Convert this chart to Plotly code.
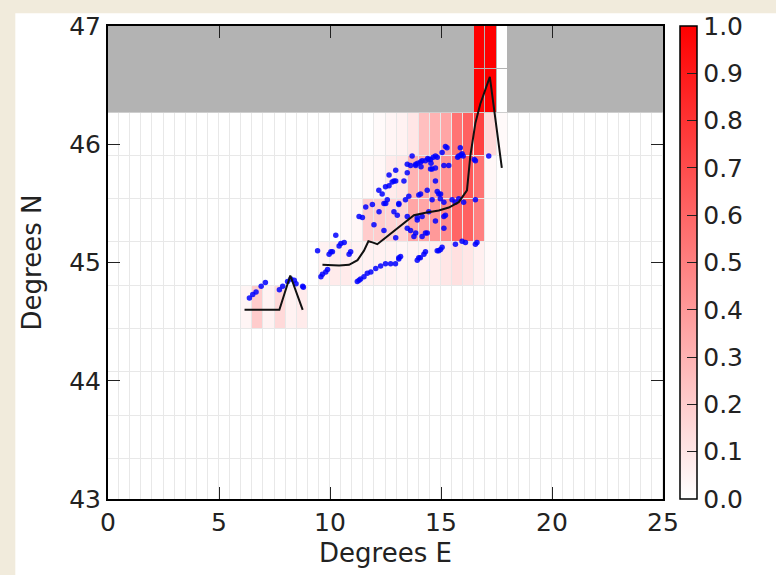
import numpy as np
import plotly.graph_objects as go

# grid of the density map (cell edges)
lon_edges = np.arange(0, 25.01, 0.5)
lat_top = 47.0
lat_step = 0.366
n_rows = 11

# cell values per row (row 0 = top), keyed by left edge of the cell in degrees E
row_top = {16.5: 1.0, 17.0: 1.0, 17.5: 0.0}
row2 = {12.0: 0.02, 12.5: 0.04, 13.0: 0.05, 13.5: 0.1, 14.0: 0.25, 14.5: 0.3,
        15.0: 0.35, 15.5: 0.55, 16.0: 0.62, 16.5: 0.75, 17.0: 0.15, 17.5: 0.02}
row3 = {11.5: 0.02, 12.0: 0.03, 12.5: 0.08, 13.0: 0.1, 13.5: 0.3, 14.0: 0.35,
        14.5: 0.35, 15.0: 0.42, 15.5: 0.58, 16.0: 0.65, 16.5: 0.55, 17.0: 0.03}
row4 = {10.5: 0.02, 11.0: 0.03, 11.5: 0.2, 12.0: 0.2, 12.5: 0.17, 13.0: 0.17,
        13.5: 0.35, 14.0: 0.35, 14.5: 0.4, 15.0: 0.45, 15.5: 0.6, 16.0: 0.62,
        16.5: 0.5, 17.0: 0.02}
row5 = {9.5: 0.05, 10.0: 0.08, 10.5: 0.08, 11.0: 0.05, 11.5: 0.05, 12.0: 0.05,
        12.5: 0.05, 13.0: 0.04, 13.5: 0.05, 14.0: 0.05, 14.5: 0.07, 15.0: 0.1,
        15.5: 0.12, 16.0: 0.1, 16.5: 0.06, 17.0: 0.02}
row6 = {6.0: 0.04, 6.5: 0.2, 7.0: 0.05, 7.5: 0.15, 8.0: 0.05, 8.5: 0.08}

# drifter positions
pts_lon = [6.37, 6.52, 6.67, 6.9, 7.09, 7.72, 7.87, 8.09, 8.24, 8.39, 8.47, 8.77, 8.8,
           9.44, 9.59, 9.66, 9.81, 9.89, 9.96, 10.04, 10.11, 10.26, 10.41, 10.49, 10.64,
           10.86, 10.93, 11.23, 11.31, 11.38, 11.53, 11.68, 11.84, 12.06, 12.28, 12.5,
           12.73, 12.95, 13.1, 13.18, 13.93, 14.07, 14.23, 14.3, 14.83, 14.98, 15.05,
           15.65, 15.95, 16.1, 16.55, 16.62, 11.31, 11.46, 11.61, 11.91, 11.98, 12.21,
           12.43, 12.51, 12.96, 13.03, 13.1, 13.4, 13.48, 13.63, 13.78, 13.93, 14.08,
           14.15, 14.38, 14.45, 14.75, 14.83, 14.98, 15.13, 15.2, 15.5, 15.8, 16.02,
           16.55, 12.66, 12.8, 12.96, 13.33, 13.48, 13.63, 13.86, 14.08, 14.3, 14.53,
           14.75, 15.05, 15.27, 14.53, 14.75, 15.13, 15.35, 15.8, 15.95, 16.55, 17.15,
           14.0, 14.38, 14.9, 13.55, 12.58, 12.43, 14.6, 14.75, 14.97, 15.13, 15.65,
           12.5, 12.88, 12.88, 13.1, 13.48, 13.93, 13.86, 14.3, 14.15, 15.13, 14.9,
           14.0, 13.1, 13.7, 13.48, 13.86, 14.45, 14.83, 15.2, 14.6, 15.87, 12.66, 12.96,
           13.95, 14.15, 14.4, 14.65, 15.9, 16.0, 15.75, 16.5, 12.35, 12.2, 14.1, 14.55]
pts_lat = [44.70, 44.73, 44.75, 44.80, 44.83, 44.77, 44.80, 44.84, 44.86, 44.85, 44.82,
           44.80, 44.79, 45.10, 44.88, 44.90, 44.92, 44.94, 45.07, 45.09, 45.09, 45.23,
           45.14, 45.16, 45.17, 45.07, 45.09, 44.84, 44.85, 44.86, 44.88, 44.91, 44.92,
           44.95, 44.97, 44.99, 44.99, 44.99, 45.03, 45.05, 45.02, 45.04, 45.07, 45.09,
           45.10, 45.11, 45.13, 45.155, 45.18, 45.17, 45.155, 45.17, 45.39, 45.38, 45.47,
           45.49, 45.32, 45.43, 45.27, 45.50, 45.21, 45.40, 45.50, 45.53, 45.29, 45.27,
           45.22, 45.38, 45.58, 45.39, 45.25, 45.43, 45.35, 45.60, 45.58, 45.29, 45.40,
           45.53, 45.54, 45.51, 45.53, 45.65, 45.68, 45.69, 45.69, 45.76, 45.82, 45.83,
           45.85, 45.86, 45.87, 45.90, 45.93, 45.97, 45.79, 45.80, 45.82, 45.82, 45.90,
           45.92, 45.86, 45.90, 45.57, 45.61, 45.58, 45.56, 45.53, 45.50, 45.53, 45.69,
           45.54, 45.51, 45.51, 45.64, 45.69, 45.43, 45.49, 45.39, 45.36, 45.25, 45.25,
           45.22, 45.39, 45.10, 45.04, 45.04, 45.90, 45.83, 45.82, 45.87, 45.89, 45.98,
           45.79, 45.97, 45.74, 45.78,
           45.84, 45.86, 45.88, 45.89, 45.91, 45.90, 45.89, 45.87, 45.58, 45.61, 45.81, 45.84]

# mean track
track_lon = [6.15, 7.72, 8.21, 8.77, None, 9.66, 10.41, 10.86, 11.24, 11.53, 11.73,
             11.91, 12.13, 12.5, 12.96, 13.4, 13.78, 14.3, 14.9, 15.35, 15.8, 16.17,
             16.32, 16.55, 16.77, 17.2, 17.74]
track_lat = [44.6, 44.6, 44.89, 44.6, None, 44.98, 44.975, 44.98, 45.02, 45.1, 45.18,
             45.17, 45.155, 45.21, 45.28, 45.35, 45.4, 45.42, 45.44, 45.465, 45.51,
             45.61, 45.9, 46.18, 46.34, 46.57, 45.8]

lon_c = (lon_edges[:-1] + lon_edges[1:]) / 2
lat_c = lat_top - lat_step * (np.arange(n_rows) + 0.5)

z = np.zeros((n_rows, len(lon_c)))
z[0:2, :] = np.nan
rows = {0: row_top, 1: row_top, 2: row2, 3: row3, 4: row4, 5: row5, 6: row6}
for r, d in rows.items():
    for x0, v in d.items():
        z[r, int(round(x0 / 0.5))] = v

font = dict(family="DejaVu Sans", size=25, color="#222222")

fig = go.Figure()
fig.add_trace(go.Heatmap(
    x=lon_c, y=lat_c, z=z, zmin=0, zmax=1,
    colorscale=[[0, "#ffffff"], [1, "#ff0000"]],
    xgap=1, ygap=1, hoverongaps=False,
    colorbar=dict(x=1.0126, xanchor="left", y=0.5, yanchor="middle", len=1,
                  ypad=0, thickness=17, outlinewidth=1.5, outlinecolor="black",
                  ticks="inside", ticklen=10, tickcolor="#222222",
                  dtick=0.1, tick0=0, tickformat=".1f", tickfont=font),
))
fig.add_trace(go.Scatter(x=pts_lon, y=pts_lat, mode="markers",
                         marker=dict(color="blue", size=5.5, opacity=0.85),
                         showlegend=False))
fig.add_trace(go.Scatter(x=track_lon, y=track_lat, mode="lines",
                         line=dict(color="#111111", width=2),
                         showlegend=False))

# masked (no data) area
fig.add_shape(type="rect", xref="x", yref="y", x0=0, x1=25,
              y0=lat_top - 2 * lat_step, y1=lat_top,
              fillcolor="#b3b3b3", line_width=0, layer="below")
# beige strips of the page around the figure
fig.add_shape(type="rect", xref="paper", yref="paper", x0=-0.4, x1=-0.167,
              y0=-0.4, y1=1.2, fillcolor="#f1ebdc", line_width=0, layer="below")
fig.add_shape(type="rect", xref="paper", yref="paper", x0=-0.4, x1=1.5,
              y0=1.027, y1=1.2, fillcolor="#f1ebdc", line_width=0, layer="below")

axis = dict(showline=True, linecolor="black", linewidth=2, mirror="ticks",
            ticks="inside", ticklen=12, tickwidth=1, tickcolor="#222222",
            showgrid=False, zeroline=False, tickfont=font,
            title_font=dict(family="DejaVu Sans", size=26, color="#222222"))
fig.update_xaxes(axis, range=[0, 25], tickvals=[0, 5, 10, 15, 20, 25],
                 title_text="Degrees E", title_standoff=8)
fig.update_yaxes(axis, range=[43, 47], tickvals=[43, 44, 45, 46, 47],
                 title_text="Degrees N", title_standoff=20)

fig.update_layout(width=776, height=575,
                  margin=dict(l=108, r=110, t=17, b=70),
                  paper_bgcolor="white", plot_bgcolor="#e8e8e8",
                  showlegend=False)
fig.write_html("out.html", config={"displayModeBar": False},
               post_script="document.body.style.margin='0';document.body.style.overflow='hidden';")
